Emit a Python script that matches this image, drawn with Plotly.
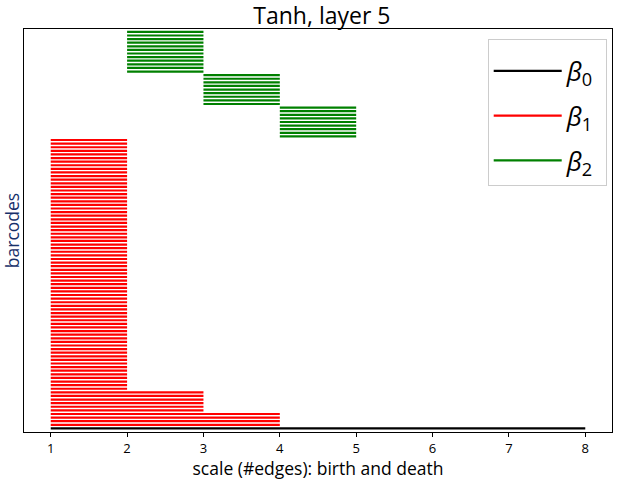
import plotly.graph_objects as go

# barcode groups (dimension, birth, death, number of bars), bottom to top
group_dims = [0, 1, 1, 1, 2, 2, 2]
group_births = [1, 1, 1, 1, 4, 3, 2]
group_deaths = [8, 4, 3, 2, 5, 4, 3]
group_counts = [1, 4, 6, 70, 9, 9, 12]

dim_colors = ["black", "red", "green"]
dim_names = ["<i>β</i><sub>0</sub>\u00a0", "<i>β</i><sub>1</sub>\u00a0",
             "<i>β</i><sub>2</sub>\u00a0"]

x_ticks = [1, 2, 3, 4, 5, 6, 7, 8]

xs = {0: [], 1: [], 2: []}
ys = {0: [], 1: [], 2: []}
idx = 0
for d, b, e, c in zip(group_dims, group_births, group_deaths, group_counts):
    for _ in range(c):
        xs[d] += [b, e, None]
        ys[d] += [idx, idx, None]
        idx += 1

fig = go.Figure()
for d in range(3):
    fig.add_trace(go.Scatter(x=xs[d], y=ys[d], mode="lines",
                             line=dict(color=dim_colors[d], width=2.2),
                             name=dim_names[d], showlegend=True,
                             legendgroup="g%d" % d))

font = "Open Sans, DejaVu Sans, sans-serif"
fig.update_layout(
    width=619, height=480,
    margin=dict(l=24, r=7, t=29, b=48, autoexpand=False),
    paper_bgcolor="white", plot_bgcolor="white",
    title=dict(text="Tanh, layer 5", x=0.52, xanchor="center", y=0.966, yanchor="middle",
               font=dict(family=font, size=23, color="black")),
    font=dict(family=font, color="black"),
    xaxis=dict(range=[0.65, 8.35], tickvals=x_ticks, ticks="outside", ticklen=4,
               tickcolor="black", tickfont=dict(size=13, color="black"),
               showgrid=False, zeroline=False, showline=True, linecolor="black",
               linewidth=1, mirror=True, automargin=False,
               title=dict(text="scale (#edges): birth and death", standoff=2,
                          font=dict(size=17.5, color="black"))),
    yaxis=dict(range=[-1, 110.8], showticklabels=False, ticks="",
               showgrid=False, zeroline=False, showline=True, linecolor="black",
               linewidth=1, mirror=True, automargin=False,
               title=dict(text="barcodes", standoff=2,
                          font=dict(size=17.5, color="#17306a"))),
    legend=dict(x=0.991, y=0.976, xanchor="right", yanchor="top",
                bgcolor="white", bordercolor="#cccccc", borderwidth=1,
                font=dict(size=26, color="black"), itemwidth=68,
                tracegroupgap=8,
                title=dict(text=" ", font=dict(size=6))),
)

fig.write_html("out.html", post_script="document.body.style.margin='0';",
               config={"displayModeBar": False})
